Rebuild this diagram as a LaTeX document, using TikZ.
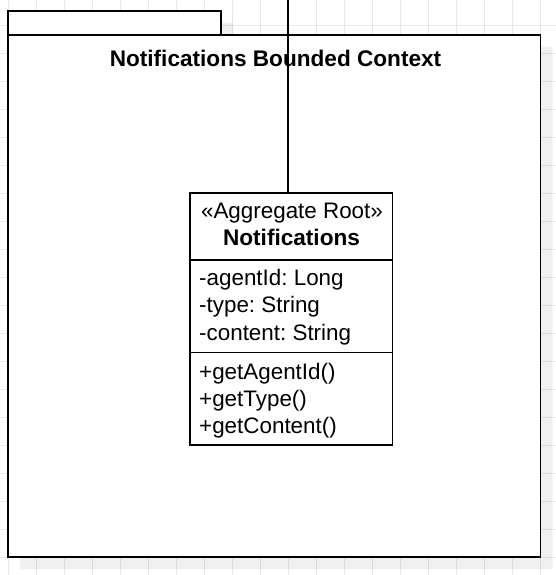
\documentclass[tikz,border=0pt]{standalone}
\usepackage{fontspec}
\setmainfont{Liberation Sans}
\frenchspacing
\begin{document}
\frenchspacing
\begin{tikzpicture}[x=1pt,y=-1pt,
  gridline/.style={draw=black!9,line width=0.8pt},
  shadowfill/.style={fill=black,fill opacity=0.06,draw=none},
  umlbox/.style={draw=black,fill=white,line width=1.7pt,inner sep=0pt,outer sep=0pt,anchor=north west},
  conn/.style={draw=black,line width=1.7pt},
  lbl/.style={inner sep=0pt,font=\fontsize{22.4}{27.8}\selectfont},
  lblbold/.style={lbl,font=\fontsize{22.6}{27.8}\selectfont\bfseries}]
\useasboundingbox (0,0) rectangle (556,575);
\clip (0,0) rectangle (556,575);
\fill[white] (0,0) rectangle (556,575);
% grid
\foreach \x in {8,36,...,540} \draw[gridline] (\x,0) -- (\x,575);
\foreach \y in {25,53,...,557} \draw[gridline] (0,\y) -- (556,\y);
% shadows
\path[shadowfill] (20,23) -- (233,23) -- (233,47) -- (552.5,47) -- (552.5,569) -- (20,569) -- cycle;
\path[shadowfill] (202,205) rectangle (404.5,457);
% package
\node[umlbox,minimum width=213pt,minimum height=24pt] (tab) at (8,11) {};
\node[umlbox,minimum width=532.5pt,minimum height=522pt] (pkg) at (8,35) {};
\node[lblbold,anchor=base] (title) at (275.5,66.7) {Notifications Bounded Context};
% class
\node[umlbox,minimum width=202.5pt,minimum height=67pt] (head) at (190,193) {};
\node[umlbox,minimum width=202.5pt,minimum height=92.5pt] (attrs) at (190,260) {};
\node[umlbox,minimum width=202.5pt,minimum height=92.5pt] (ops) at (190,352.5) {};
\node[lbl,anchor=base] (stereo) at (292,218) {«Aggregate Root»};
\node[lblbold,anchor=base] (cname) at (291.5,245) {Notifications};
\node[lbl,anchor=base west] (a1) at (199,285) {-agentId: Long};
\node[lbl,anchor=base west] (a2) at (199,312.7) {-type: String};
\node[lbl,anchor=base west] (a3) at (199,340.5) {-content: String};
\node[lbl,anchor=base west] (m1) at (199,379) {+getAgentId()};
\node[lbl,anchor=base west] (m2) at (199,406.5) {+getType()};
\node[lbl,anchor=base west] (m3) at (199,433.5) {+getContent()};
% connector
\coordinate (top) at (288.3,0);
\draw[conn] (top) -- (top |- head.north);
\end{tikzpicture}
\end{document}
